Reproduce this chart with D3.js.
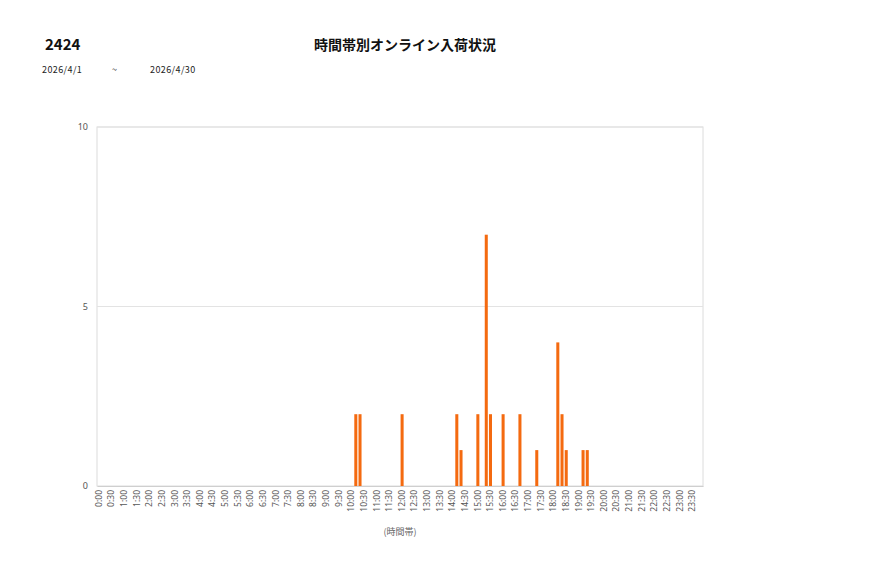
<!DOCTYPE html>
<html>
<head>
<meta charset="utf-8">
<script src="https://cdn.jsdelivr.net/npm/d3@7"></script>
<style>
  body { margin: 0; background: #fff; font-family: "Noto Sans CJK JP", "Noto Sans", sans-serif; }
</style>
</head>
<body>
<svg id="chart" width="877" height="578"></svg>
<script>
// 10分刻みのスロット (0:00 ～ 23:50)
const slots = d3.range(144).map(i => `${Math.floor(i / 6)}:${String((i % 6) * 10).padStart(2, '0')}`);
// 入荷のあったスロットと件数
const activeSlots = ['10:10', '10:20', '12:00', '14:10', '14:20', '15:00', '15:20', '15:30', '16:00', '16:40', '17:20', '18:10', '18:20', '18:30', '19:10', '19:20'];
const activeCounts = [2, 2, 2, 2, 1, 2, 7, 2, 2, 2, 1, 4, 2, 1, 1, 1];
// 30分ごとの目盛ラベル
const tickLabels = slots.filter((d, i) => i % 3 === 0);
const yTicks = [0, 5, 10];

const values = slots.map(s => {
    const k = activeSlots.indexOf(s);
    return k >= 0 ? activeCounts[k] : 0;
});

const svg = d3.select('#chart');
const margin = { top: 127, left: 97, right: 174, bottom: 92 };
const width = 877 - margin.left - margin.right;
const height = 578 - margin.top - margin.bottom;

// ヘッダー
svg.append('text').attr('x', 45).attr('y', 50)
    .style('font-size', '15px').style('font-weight', 'bold').attr('fill', '#111')
    .text('2424');
svg.append('text').attr('x', 405).attr('y', 50).attr('text-anchor', 'middle')
    .style('font-size', '14px').style('font-weight', 'bold').attr('fill', '#111')
    .text('時間帯別オンライン入荷状況');
const dateStyle = sel => sel.style('font-size', '9px').style('letter-spacing', '0.4px').attr('fill', '#222');
svg.append('text').attr('x', 42).attr('y', 73).call(dateStyle).text('2026/4/1');
svg.append('text').attr('x', 112).attr('y', 73).call(dateStyle).text('~');
svg.append('text').attr('x', 150).attr('y', 73).call(dateStyle).text('2026/4/30');

const g = svg.append('g').attr('transform', `translate(${margin.left},${margin.top})`);

const x = d3.scaleBand().domain(slots).range([0, width]).paddingInner(0.28).paddingOuter(0.14);
const y = d3.scaleLinear().domain([0, 10]).range([height, 0]);

// 枠とグリッド
g.append('rect').attr('width', width).attr('height', height)
    .attr('fill', 'none').attr('stroke', '#dcdcdc').attr('stroke-width', 1);
g.append('g').selectAll('line').data(yTicks.filter(d => d > 0)).enter().append('line')
    .attr('x1', 0).attr('x2', width)
    .attr('y1', d => y(d)).attr('y2', d => y(d))
    .attr('stroke', '#e3e3e3');

// 棒
g.selectAll('.bar').data(slots.map((s, i) => ({ s, v: values[i] })).filter(d => d.v > 0))
    .enter().append('rect')
    .attr('class', 'bar')
    .attr('x', d => x(d.s))
    .attr('width', x.bandwidth())
    .attr('y', d => y(d.v))
    .attr('height', d => height - y(d.v))
    .attr('fill', '#f46a10');

// 軸
const yAxis = g.append('g')
    .call(d3.axisLeft(y).tickValues(yTicks).tickSize(0).tickPadding(9));
yAxis.select('.domain').remove();
yAxis.selectAll('text').style('font-size', '9px').attr('fill', '#555')
    .style('font-family', '"Noto Sans", sans-serif');

const xAxis = g.append('g').attr('transform', `translate(0,${height})`)
    .call(d3.axisBottom(x).tickValues(tickLabels).tickSize(0));
xAxis.select('.domain').attr('stroke', '#cfcfcf');
xAxis.selectAll('text')
    .attr('transform', 'rotate(-90)')
    .attr('text-anchor', 'end')
    .attr('x', -4)
    .attr('y', 0)
    .attr('dy', '0.32em')
    .style('font-size', '8.5px')
    .attr('fill', '#555')
    .style('font-family', '"Noto Sans", sans-serif');

svg.append('text').attr('x', margin.left + width / 2).attr('y', 535).attr('text-anchor', 'middle')
    .style('font-size', '9px').attr('fill', '#666').text('(時間帯)');
</script>
</body>
</html>
